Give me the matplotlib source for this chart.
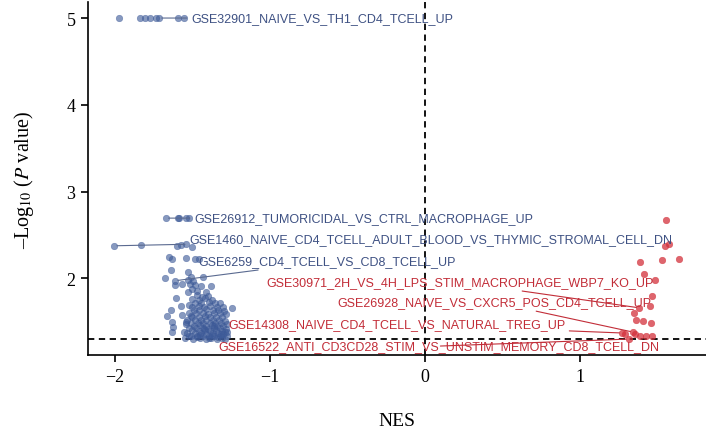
import matplotlib
matplotlib.use("Agg")
import matplotlib.pyplot as plt

# gene sets enriched in the negative direction (blue)
down_nes = [
    -1.972, -1.836, -1.806, -1.775, -1.735, -1.716, -1.594, -1.552,
    -1.672, -1.592, -1.586, -1.539, -1.521,
    -2.005, -1.829, -1.603, -1.575, -1.543, -1.504,
    -1.650, -1.633, -1.539, -1.485, -1.457,
    -1.636, -1.676, -1.612, -1.614, -1.532, -1.510, -1.528, -1.494, -1.435,
    -1.565, -1.517, -1.485, -1.446, -1.381, -1.500, -1.532, -1.468, -1.413,
    -1.607, -1.575, -1.521, -1.640, -1.662, -1.565, -1.510, -1.630, -1.625,
    -1.539, -1.543, -1.630, -1.554, -1.521, -1.244, -1.276,
    -1.47, -1.44, -1.40,
    -1.50, -1.455, -1.42, -1.375,
    -1.485, -1.445, -1.395, -1.355, -1.325,
    -1.505, -1.46, -1.425, -1.385, -1.345, -1.305,
    -1.49, -1.455, -1.41, -1.37, -1.335, -1.295,
    -1.52, -1.475, -1.435, -1.40, -1.36, -1.32, -1.285,
    -1.50, -1.46, -1.42, -1.385, -1.35, -1.31,
    -1.535, -1.485, -1.445, -1.41, -1.37, -1.33, -1.29,
    -1.51, -1.465, -1.43, -1.39, -1.355, -1.315, -1.275,
    -1.49, -1.45, -1.41, -1.375, -1.34, -1.30,
    -1.52, -1.475, -1.435, -1.40, -1.36, -1.325, -1.285,
    -1.50, -1.46, -1.42, -1.385, -1.35, -1.31, -1.29,
    -1.535, -1.485, -1.445, -1.41, -1.37, -1.335, -1.30,
    -1.51, -1.47, -1.43, -1.395, -1.36, -1.32, -1.28,
    -1.55, -1.495, -1.45, -1.415, -1.38, -1.345, -1.31, -1.29,
    -1.468, -1.392, -1.338, -1.452, -1.372, -1.318, -1.428, -1.358,
]
down_logp = [
    5.0, 5.0, 5.0, 5.0, 5.0, 5.0, 5.0, 5.0,
    2.694, 2.694, 2.700, 2.690, 2.694,
    2.375, 2.383, 2.375, 2.383, 2.394, 2.363,
    2.241, 2.218, 2.230, 2.222, 2.222,
    2.098, 1.999, 1.972, 1.922, 2.075, 2.011, 1.983, 1.972, 2.011,
    1.934, 1.934, 1.922, 1.914, 1.907, 1.876, 1.838, 1.856, 1.838,
    1.776, 1.684, 1.692, 1.638, 1.568, 1.576, 1.568, 1.492, 1.435,
    1.496, 1.473, 1.377, 1.384, 1.338, 1.654, 1.381,
    1.81, 1.79, 1.80,
    1.76, 1.75, 1.77, 1.745,
    1.72, 1.715, 1.725, 1.71, 1.72,
    1.675, 1.685, 1.67, 1.68, 1.675, 1.665,
    1.64, 1.635, 1.645, 1.63, 1.64, 1.625,
    1.60, 1.595, 1.605, 1.59, 1.60, 1.595, 1.585,
    1.56, 1.555, 1.565, 1.55, 1.56, 1.555,
    1.525, 1.52, 1.515, 1.525, 1.515, 1.52, 1.51,
    1.49, 1.485, 1.49, 1.48, 1.49, 1.485, 1.475,
    1.455, 1.46, 1.45, 1.46, 1.455, 1.45,
    1.43, 1.425, 1.43, 1.42, 1.43, 1.425, 1.42,
    1.40, 1.395, 1.40, 1.39, 1.40, 1.395, 1.385,
    1.37, 1.365, 1.37, 1.36, 1.37, 1.365, 1.36,
    1.34, 1.335, 1.34, 1.33, 1.34, 1.335, 1.33,
    1.31, 1.305, 1.31, 1.305, 1.31, 1.305, 1.31, 1.305,
    1.322, 1.318, 1.325, 1.352, 1.348, 1.355, 1.412, 1.445,
]

# gene sets enriched in the positive direction (red)
up_nes = [
    1.552, 1.545, 1.571, 1.384, 1.528, 1.636, 1.410, 1.483,
    1.463, 1.450, 1.381, 1.347, 1.360, 1.405, 1.459,
    1.271, 1.291, 1.342, 1.351, 1.386, 1.422, 1.465, 1.315,
]
up_logp = [
    2.674, 2.371, 2.394, 2.190, 2.210, 2.220, 2.050, 1.980,
    1.795, 1.680, 1.660, 1.596, 1.520, 1.510, 1.490,
    1.370, 1.360, 1.380, 1.360, 1.340, 1.340, 1.340, 1.300,
]

down_labels = [
    "GSE32901_NAIVE_VS_TH1_CD4_TCELL_UP",
    "GSE26912_TUMORICIDAL_VS_CTRL_MACROPHAGE_UP",
    "GSE1460_NAIVE_CD4_TCELL_ADULT_BLOOD_VS_THYMIC_STROMAL_CELL_DN",
    "GSE6259_CD4_TCELL_VS_CD8_TCELL_UP",
]
down_label_nes = [-1.716, -1.672, -2.005, -1.612]
down_label_logp = [5.0, 2.694, 2.375, 1.972]

up_labels = [
    "GSE30971_2H_VS_4H_LPS_STIM_MACROPHAGE_WBP7_KO_UP",
    "GSE26928_NAIVE_VS_CXCR5_POS_CD4_TCELL_UP",
    "GSE14308_NAIVE_CD4_TCELL_VS_NATURAL_TREG_UP",
    "GSE16522_ANTI_CD3CD28_STIM_VS_UNSTIM_MEMORY_CD8_TCELL_DN",
]
up_label_nes = [1.381, 1.342, 1.271, 1.315]
up_label_logp = [1.660, 1.380, 1.370, 1.300]

# where each label's text is centred (data coords)
down_text_xy = [(-0.665, 5.0), (-0.397, 2.694), (0.036, 2.452), (-0.630, 2.199)]
up_text_xy = [(0.223, 1.957), (0.446, 1.726), (-0.184, 1.473), (0.090, 1.219)]


def main():
    plt.rcParams["font.family"] = "serif"
    plt.rcParams["font.serif"] = ["Liberation Serif", "DejaVu Serif"]
    plt.rcParams["mathtext.fontset"] = "stix"

    fig = plt.figure(figsize=(7.06, 4.39), dpi=100)
    ax = fig.add_axes([0.1246, 0.189, 0.8754, 0.804])

    blue = "#3d5a98"
    red = "#d3323c"
    blue_txt = "#3e5183"
    red_txt = "#c22d38"

    ax.axvline(0, color="black", lw=1.3, dashes=(3.5, 2.5), zorder=1)
    ax.axhline(1.3, color="black", lw=1.3, dashes=(3.5, 2.5), zorder=1)

    ax.scatter(down_nes, down_logp, s=22, color=blue, alpha=0.62,
               edgecolors=blue, linewidths=0.4, zorder=2)
    ax.scatter(up_nes, up_logp, s=22, color=red, alpha=0.75,
               edgecolors=red, linewidths=0.4, zorder=2)

    for lab, px, py, txy in zip(down_labels, down_label_nes, down_label_logp, down_text_xy):
        ax.annotate(lab, xy=(px, py), xytext=txy, ha="center", va="center",
                    fontsize=9.0, family="Liberation Sans", color=blue_txt,
                    arrowprops=dict(arrowstyle="-", color="#5a6a90", lw=0.8,
                                    shrinkA=1, shrinkB=2), zorder=3)
    for lab, px, py, txy in zip(up_labels, up_label_nes, up_label_logp, up_text_xy):
        ax.annotate(lab, xy=(px, py), xytext=txy, ha="center", va="center",
                    fontsize=9.0, family="Liberation Sans", color=red_txt,
                    arrowprops=dict(arrowstyle="-", color=red_txt, lw=0.8,
                                    shrinkA=1, shrinkB=2), zorder=3)

    ax.set_xlim(-2.174, 1.812)
    ax.set_ylim(1.116, 5.184)
    ax.set_xticks([-2, -1, 0, 1])
    ax.set_yticks([2, 3, 4, 5])
    ax.spines["top"].set_visible(False)
    ax.spines["right"].set_visible(False)
    for side in ("left", "bottom"):
        ax.spines[side].set_linewidth(1.2)
    ax.tick_params(direction="out", length=5, width=1.2, labelsize=13, pad=4)

    ax.set_xlabel("NES", fontsize=14, labelpad=20)
    ax.set_ylabel("\u2013Log$_{10}$ ($P$ value)", fontsize=14.5, labelpad=22)

    fig.savefig("out.png", dpi=100)


if __name__ == "__main__":
    main()
